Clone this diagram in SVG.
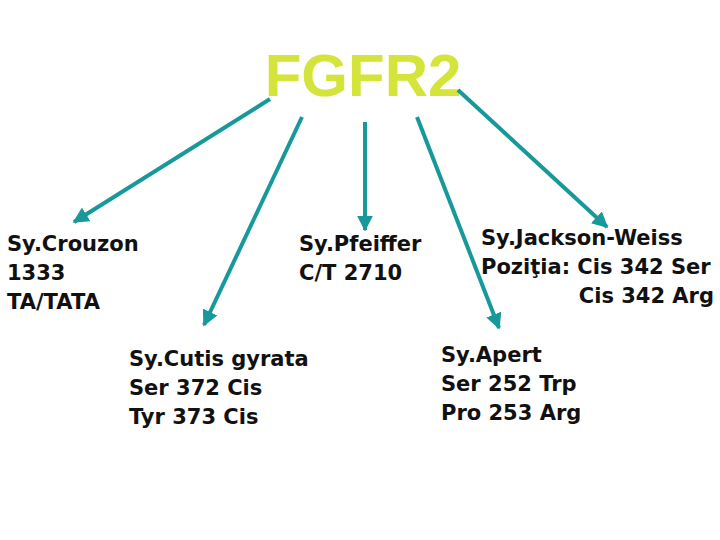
<svg xmlns="http://www.w3.org/2000/svg" width="720" height="540" viewBox="0 0 720 540">
<defs>
<marker id="ah" viewBox="0 0 10 10" refX="9" refY="5" markerWidth="4" markerHeight="4" orient="auto" markerUnits="strokeWidth">
<path d="M0,0 L10,5 L0,10 Z" fill="#17999b"/>
</marker>
<style>
.t{font-family:"DejaVu Sans",Verdana,sans-serif;font-weight:bold;font-size:21px;fill:#111}
.c{stroke:#17999b;stroke-width:4;fill:none;marker-end:url(#ah)}
</style>
</defs>
<rect width="720" height="540" fill="#fff"/>
<g id="fgfr2"><text x="363" y="96" text-anchor="middle" font-family="Liberation Sans,Arial,sans-serif" font-weight="bold" font-size="60" fill="#d4e43a">FGFR2</text></g>
<g id="connectors">
<line class="c" x1="270" y1="99" x2="74" y2="222"/>
<line class="c" x1="302" y1="117" x2="204" y2="325"/>
<line class="c" x1="365" y1="122" x2="365" y2="230"/>
<line class="c" x1="417" y1="117" x2="499" y2="328"/>
<line class="c" x1="458" y1="90" x2="607" y2="227"/>
</g>
<g id="crouzon"><text class="t" x="7" y="251">Sy.Crouzon</text><text class="t" x="7" y="280">1333</text><text class="t" x="7" y="309">TA/TATA</text></g>
<g id="pfeiffer"><text class="t" x="299" y="251">Sy.Pfeiffer</text><text class="t" x="299" y="280">C/T 2710</text></g>
<g id="jackson"><text class="t" x="481" y="245">Sy.Jackson-Weiss</text><text class="t" x="481" y="274">Poziţia: Cis 342 Ser</text><text class="t" x="714" y="303" text-anchor="end">Cis 342 Arg</text></g>
<g id="cutis"><text class="t" x="129" y="366">Sy.Cutis gyrata</text><text class="t" x="129" y="395">Ser 372 Cis</text><text class="t" x="129" y="424">Tyr 373 Cis</text></g>
<g id="apert"><text class="t" x="441" y="362">Sy.Apert</text><text class="t" x="441" y="391">Ser 252 Trp</text><text class="t" x="441" y="420">Pro 253 Arg</text></g>
</svg>
